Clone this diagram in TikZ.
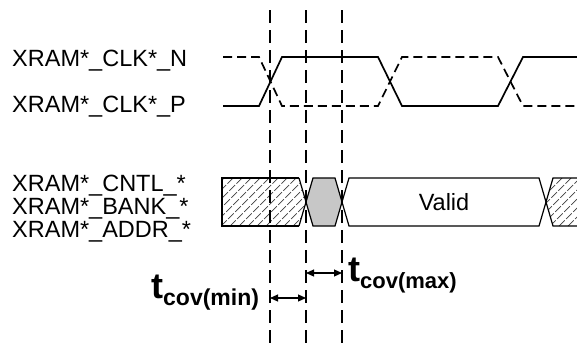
\documentclass[tikz,border=0pt]{standalone}
\usepackage{fontspec}
\setmainfont{Liberation Sans}
\usetikzlibrary{arrows.meta}
\begin{document}
\begin{tikzpicture}[x=1pt,y=-1pt,
  lbl/.style={font=\fontsize{23.5}{24}\selectfont, anchor=base west, inner sep=0pt},
  tlbl/.style={anchor=base west, inner sep=0pt},
  vline/.style={line width=1.8pt, dash pattern=on 13pt off 7pt},
  clk/.style={line width=1.7pt, line join=miter},
  clkdash/.style={clk, dash pattern=on 9pt off 5pt},
  bus/.style={line width=1.2pt, line join=miter},
  hatch/.style={line width=0.7pt, black!75, dash pattern=on 8pt off 2pt},
  meas/.style={line width=1.1pt, {Triangle[length=8pt,width=7pt]}-{Triangle[length=8pt,width=7pt]}}]
\useasboundingbox (0,0) rectangle (577,343);
\fill[white] (0,0) rectangle (577,343);

% labels
\node[lbl] (ln) at (12,66) {XRAM*\_CLK*\_N};
\node[lbl] (lp) at (12,112) {XRAM*\_CLK*\_P};
\node[lbl] (lc) at (12,191) {XRAM*\_CNTL\_*};
\node[lbl] (lb) at (12,214) {XRAM*\_BANK\_*};
\node[lbl] (la) at (12,237) {XRAM*\_ADDR\_*};

% hatched regions
\begin{scope}
  \clip (222,178) -- (299,178) -- (306,202) -- (299,226) -- (222,226) -- cycle;
  \foreach \k in {176,185,...,320} \draw[hatch] (\k,226) -- ++(48,-48);
\end{scope}
\begin{scope}
  \clip (546,202) -- (553,178) -- (577,178) -- (577,226) -- (553,226) -- cycle;
  \foreach \k in {496,505,...,600} \draw[hatch] (\k,226) -- ++(48,-48);
\end{scope}
\draw[bus] (299,178) -- (222,178) -- (222,226) -- (299,226);

% grey hexagon
\fill[black!22] (306,202) -- (313,178) -- (335,178) -- (342,202) -- (335,226) -- (313,226) -- cycle;

% bus outlines
\draw[bus] (299,178) -- (313,226) -- (335,226) -- (349,178) -- (539,178) -- (553,226) -- (577,226);
\draw[bus] (299,226) -- (313,178) -- (335,178) -- (349,226) -- (539,226) -- (553,178) -- (577,178);
\node[font=\fontsize{23.5}{24}\selectfont] (valid) at (444,202) {Valid};

% clocks
\draw[clk] (223,106) -- (259,106) -- (282,57) -- (378,57) -- (402,106) -- (498,106) -- (523,57) -- (577,57);
\draw[clkdash] (223,57) -- (259,57) -- (282,106) -- (378,106) -- (402,57) -- (498,57) -- (523,106) -- (577,106);

% vertical dashed lines
\coordinate (v1t) at (270,10); \coordinate (v1b) at (270,343);
\coordinate (v2t) at (306,10); \coordinate (v2b) at (306,343);
\coordinate (v3t) at (342,10); \coordinate (v3b) at (342,343);
\draw[vline] (v1t) -- (v1b);
\draw[vline] (v2t) -- (v2b);
\draw[vline] (v3t) -- (v3b);

% measurement arrows
\coordinate (m1a) at (270,298); \coordinate (m1b) at (306,298);
\coordinate (m2a) at (306,273); \coordinate (m2b) at (342,273);
\draw[meas] (m1a) -- (m1b);
\draw[meas] (m2a) -- (m2b);

\node[tlbl] (tmin) at (151,298) {\fontsize{36}{36}\selectfont\bfseries t\raisebox{-7pt}{\fontsize{23}{23}\selectfont cov(min)}};
\node[tlbl] (tmax) at (348,281) {\fontsize{36}{36}\selectfont\bfseries t\raisebox{-7pt}{\fontsize{22}{22}\selectfont cov(max)}};
\end{tikzpicture}
\end{document}
